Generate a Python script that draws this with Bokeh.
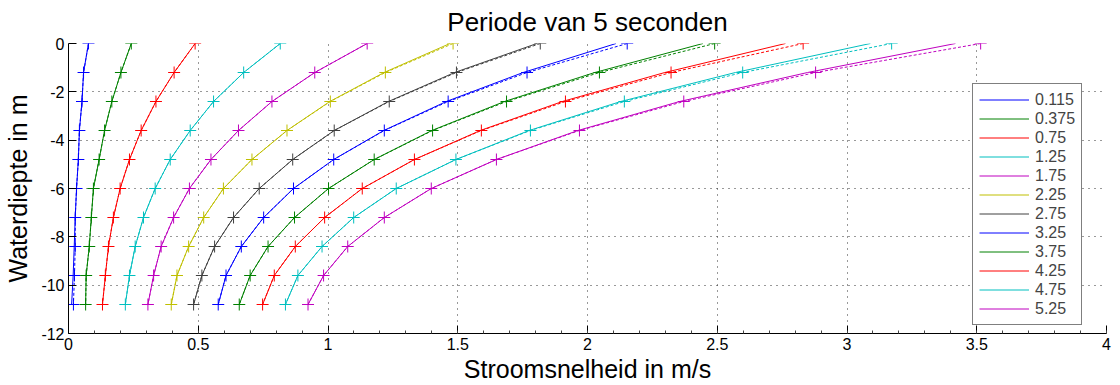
from bokeh.plotting import figure
from bokeh.models import FixedTicker, Legend, LegendItem, CustomJSTickFormatter
from bokeh.embed import file_html
from bokeh.resources import INLINE

# ---------------- data ----------------
depths = [0.0, -1.2, -2.4, -3.6, -4.8, -6.0, -7.2, -8.4, -9.6, -10.8]

labels = ["0.115", "0.375", "0.75", "1.25", "1.75", "2.25",
          "2.75", "3.25", "3.75", "4.25", "4.75", "5.25"]

# velocities at the marker depths (dotted curves with '+' markers)
m_0115 = [0.077, 0.058, 0.052, 0.042, 0.038, 0.031, 0.026, 0.026, 0.023, 0.019]
m_0375 = [0.242, 0.202, 0.167, 0.139, 0.118, 0.096, 0.088, 0.080, 0.068, 0.066]
m_075 = [0.488, 0.407, 0.337, 0.280, 0.235, 0.199, 0.173, 0.154, 0.142, 0.131]
m_125 = [0.816, 0.675, 0.559, 0.469, 0.392, 0.334, 0.289, 0.257, 0.235, 0.219]
m_175 = [1.151, 0.949, 0.784, 0.655, 0.549, 0.466, 0.405, 0.357, 0.328, 0.306]
m_225 = [1.482, 1.221, 1.009, 0.842, 0.707, 0.597, 0.521, 0.463, 0.418, 0.396]
m_275 = [1.818, 1.495, 1.236, 1.024, 0.864, 0.735, 0.636, 0.563, 0.514, 0.482]
m_325 = [2.153, 1.767, 1.463, 1.217, 1.022, 0.867, 0.752, 0.666, 0.607, 0.577]
m_375 = [2.490, 2.046, 1.688, 1.403, 1.178, 1.002, 0.871, 0.769, 0.700, 0.658]
m_425 = [2.831, 2.322, 1.915, 1.591, 1.333, 1.132, 0.987, 0.874, 0.793, 0.748]
m_475 = [3.172, 2.598, 2.142, 1.780, 1.493, 1.263, 1.099, 0.977, 0.884, 0.836]
m_525 = [3.515, 2.879, 2.371, 1.969, 1.649, 1.398, 1.217, 1.076, 0.983, 0.923]

# solid curves (slightly lower near the surface for the larger waves)
s_0115 = [0.077, 0.058, 0.052, 0.042, 0.038, 0.031, 0.026, 0.022, 0.018, 0.012]
s_0375 = [0.242, 0.202, 0.167, 0.139, 0.118, 0.096, 0.088, 0.080, 0.068, 0.066]
s_075 = [0.488, 0.407, 0.337, 0.280, 0.235, 0.199, 0.173, 0.154, 0.142, 0.131]
s_125 = [0.816, 0.675, 0.559, 0.469, 0.392, 0.334, 0.289, 0.257, 0.235, 0.219]
s_175 = [1.151, 0.949, 0.784, 0.655, 0.549, 0.466, 0.405, 0.357, 0.328, 0.306]
s_225 = [1.470, 1.216, 1.007, 0.842, 0.707, 0.597, 0.521, 0.463, 0.418, 0.396]
s_275 = [1.805, 1.488, 1.233, 1.024, 0.864, 0.735, 0.636, 0.563, 0.514, 0.482]
s_325 = [2.110, 1.752, 1.456, 1.215, 1.022, 0.867, 0.752, 0.666, 0.607, 0.577]
s_375 = [2.445, 2.028, 1.680, 1.400, 1.178, 1.002, 0.871, 0.769, 0.700, 0.658]
s_425 = [2.763, 2.298, 1.903, 1.587, 1.333, 1.132, 0.987, 0.874, 0.793, 0.748]
s_475 = [3.090, 2.570, 2.128, 1.775, 1.493, 1.263, 1.099, 0.977, 0.884, 0.836]
s_525 = [3.418, 2.848, 2.355, 1.963, 1.649, 1.398, 1.217, 1.076, 0.983, 0.923]

marker_series = [m_0115, m_0375, m_075, m_125, m_175, m_225,
                 m_275, m_325, m_375, m_425, m_475, m_525]
solid_series = [s_0115, s_0375, s_075, s_125, s_175, s_225,
                s_275, s_325, s_375, s_425, s_475, s_525]

x_ticks = [0, 0.5, 1, 1.5, 2, 2.5, 3, 3.5, 4]
y_ticks = [-12, -10, -8, -6, -4, -2, 0]

colors = ["#0000FF", "#008000", "#FF0000", "#00BFBF", "#BF00BF", "#BFBF00", "#404040"]

FONT = "Liberation Sans"

p = figure(width=1120, height=385, x_range=(0, 4), y_range=(-12, 0),
           output_backend="svg", toolbar_location=None,
           min_border_left=68, min_border_right=14, min_border_top=43,
           min_border_bottom=52)
p.background_fill_color = "white"
p.border_fill_color = "white"
p.outline_line_color = None

p.title.text = "Periode van 5 seconden"
p.title.align = "center"
p.title.vertical_align = "top"
p.title.text_font = FONT
p.title.text_font_size = "26px"
p.title.text_font_style = "normal"
p.title.text_color = "#000000"

p.xaxis.ticker = FixedTicker(ticks=x_ticks, minor_ticks=[i / 10 for i in range(41)])
p.yaxis.ticker = FixedTicker(ticks=y_ticks)
p.xaxis.formatter = CustomJSTickFormatter(code="return String(tick);")
p.yaxis.formatter = CustomJSTickFormatter(code="return String(tick);")

for ax in (p.xaxis[0], p.yaxis[0]):
    ax.axis_line_color = "black"
    ax.major_tick_in = 8
    ax.major_tick_out = 0
    ax.major_tick_line_color = "black"
    ax.major_label_text_font = FONT
    ax.major_label_text_font_size = "16px"
    ax.major_label_text_color = "black"
    ax.axis_label_text_font = FONT
    ax.axis_label_text_font_size = "25px"
    ax.axis_label_text_font_style = "normal"
    ax.axis_label_text_color = "black"
    ax.major_label_standoff = 4

p.xaxis.minor_tick_in = 3
p.xaxis.minor_tick_out = 0
p.xaxis.minor_tick_line_color = "#444444"
p.yaxis.minor_tick_line_color = None
p.xaxis.axis_label = "Stroomsnelheid in m/s"
p.yaxis.axis_label = "Waterdiepte in m"
p.xaxis.axis_label_standoff = 2
p.yaxis.axis_label_standoff = 6

for g in (p.xgrid[0], p.ygrid[0]):
    g.grid_line_color = "#333333"
    g.grid_line_dash = "1 5"
    g.grid_line_width = 1
p.xgrid.ticker = FixedTicker(ticks=x_ticks)
p.ygrid.ticker = FixedTicker(ticks=y_ticks)

items = []
for i, lbl in enumerate(labels):
    c = colors[i % len(colors)]
    p.line(marker_series[i], depths, line_color=c, line_width=1, line_dash="3 2")
    p.scatter(marker_series[i], depths, marker="cross", size=12, line_color=c, line_width=1)
    r = p.line(solid_series[i], depths, line_color=c, line_width=1)
    items.append(LegendItem(label=lbl, renderers=[r]))

legend = Legend(items=items, location=(904, 8), margin=0, padding=6, spacing=0,
                label_height=19, glyph_height=19, glyph_width=50, label_standoff=6,
                label_text_font=FONT, label_text_font_size="16px",
                border_line_color="black", border_line_width=1,
                background_fill_color="white", background_fill_alpha=1.0)
p.add_layout(legend)

open("out.html", "w").write(file_html(p, INLINE))
